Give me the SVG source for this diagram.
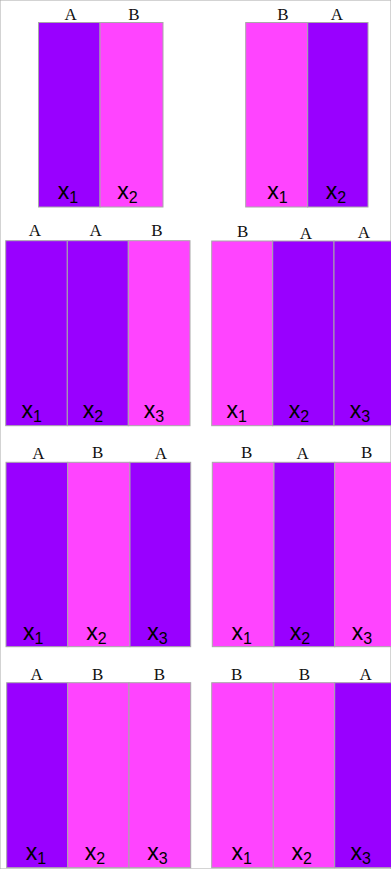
<svg xmlns="http://www.w3.org/2000/svg" width="391" height="869" viewBox="0 0 391 869">
<style>
rect{stroke:#a8a8a8;stroke-width:1}
.a{fill:#9900ff}
.b{fill:#ff44ff}
.h{font-family:"Liberation Serif",serif;font-size:17px;fill:#111;text-anchor:middle}
.v{font-family:"Liberation Sans",sans-serif;font-size:23px;fill:#000;text-anchor:middle}
.s{font-size:16px}
</style>
<rect x="0" y="0" width="391" height="869" fill="#fff" stroke="none"/>
<g id="p1">
<rect class="a" x="38.5" y="22.5" width="61.5" height="184.5"/>
<rect class="b" x="100" y="22.5" width="63" height="184.5"/>
<text class="h" x="70.7" y="20">A</text><text class="h" x="134" y="20">B</text>
<text class="v" x="68" y="199">x<tspan class="s" dy="4">1</tspan></text>
<text class="v" x="127.5" y="199">x<tspan class="s" dy="4">2</tspan></text>
</g>
<g id="p2">
<rect class="b" x="245.7" y="22.5" width="62" height="184.5"/>
<rect class="a" x="307.7" y="22.5" width="60.3" height="184.5"/>
<text class="h" x="283" y="20">B</text><text class="h" x="337" y="20">A</text>
<text class="v" x="277.5" y="199">x<tspan class="s" dy="4">1</tspan></text>
<text class="v" x="336" y="199">x<tspan class="s" dy="4">2</tspan></text>
</g>
<g id="p3">
<rect class="a" x="5.7" y="240.7" width="61.6" height="185"/>
<rect class="a" x="67.3" y="240.7" width="61" height="185"/>
<rect class="b" x="128.3" y="240.7" width="61.7" height="185"/>
<text class="h" x="35" y="236">A</text><text class="h" x="95.7" y="236">A</text><text class="h" x="157" y="236">B</text>
<text class="v" x="31.7" y="418">x<tspan class="s" dy="4">1</tspan></text>
<text class="v" x="93" y="418">x<tspan class="s" dy="4">2</tspan></text>
<text class="v" x="154" y="418">x<tspan class="s" dy="4">3</tspan></text>
</g>
<g id="p4">
<rect class="b" x="211.7" y="241" width="61" height="184.7"/>
<rect class="a" x="272.7" y="241" width="61.3" height="184.7"/>
<rect class="a" x="334" y="241" width="62" height="184.7"/>
<text class="h" x="242.7" y="236.7">B</text><text class="h" x="306" y="239">A</text><text class="h" x="364" y="238">A</text>
<text class="v" x="236.7" y="418">x<tspan class="s" dy="4">1</tspan></text>
<text class="v" x="299" y="418">x<tspan class="s" dy="4">2</tspan></text>
<text class="v" x="360" y="418">x<tspan class="s" dy="4">3</tspan></text>
</g>
<g id="p5">
<rect class="a" x="6" y="462.3" width="61.7" height="184.4"/>
<rect class="b" x="67.7" y="462.3" width="62.3" height="184.4"/>
<rect class="a" x="130" y="462.3" width="60.7" height="184.4"/>
<text class="h" x="38.3" y="459.3">A</text><text class="h" x="97.7" y="457.7">B</text><text class="h" x="161" y="459">A</text>
<text class="v" x="33.3" y="640">x<tspan class="s" dy="4">1</tspan></text>
<text class="v" x="96.5" y="640">x<tspan class="s" dy="4">2</tspan></text>
<text class="v" x="157.5" y="640">x<tspan class="s" dy="4">3</tspan></text>
</g>
<g id="p6">
<rect class="b" x="212.3" y="462.3" width="61.7" height="184.4"/>
<rect class="a" x="274" y="462.3" width="60.7" height="184.4"/>
<rect class="b" x="334.7" y="462.3" width="61.3" height="184.4"/>
<text class="h" x="246.7" y="458">B</text><text class="h" x="302.7" y="459">A</text><text class="h" x="366.7" y="458">B</text>
<text class="v" x="241.7" y="640">x<tspan class="s" dy="4">1</tspan></text>
<text class="v" x="300" y="640">x<tspan class="s" dy="4">2</tspan></text>
<text class="v" x="362" y="640">x<tspan class="s" dy="4">3</tspan></text>
</g>
<g id="p7">
<rect class="a" x="6.7" y="682.7" width="61" height="185"/>
<rect class="b" x="67.7" y="682.7" width="61.3" height="185"/>
<rect class="b" x="129" y="682.7" width="61.7" height="185"/>
<text class="h" x="36.7" y="680">A</text><text class="h" x="97.7" y="680">B</text><text class="h" x="159.3" y="680">B</text>
<text class="v" x="36" y="860">x<tspan class="s" dy="4">1</tspan></text>
<text class="v" x="95" y="860">x<tspan class="s" dy="4">2</tspan></text>
<text class="v" x="157.5" y="860">x<tspan class="s" dy="4">3</tspan></text>
</g>
<g id="p8">
<rect class="b" x="211.7" y="682.7" width="61.6" height="185"/>
<rect class="b" x="273.3" y="682.7" width="61.4" height="185"/>
<rect class="a" x="334.7" y="682.7" width="61.3" height="185"/>
<text class="h" x="236.7" y="680">B</text><text class="h" x="304.3" y="680">B</text><text class="h" x="365.7" y="680">A</text>
<text class="v" x="241.7" y="860">x<tspan class="s" dy="4">1</tspan></text>
<text class="v" x="301.7" y="860">x<tspan class="s" dy="4">2</tspan></text>
<text class="v" x="360.8" y="860">x<tspan class="s" dy="4">3</tspan></text>
</g>
<g id="connectors"></g>
</svg>
